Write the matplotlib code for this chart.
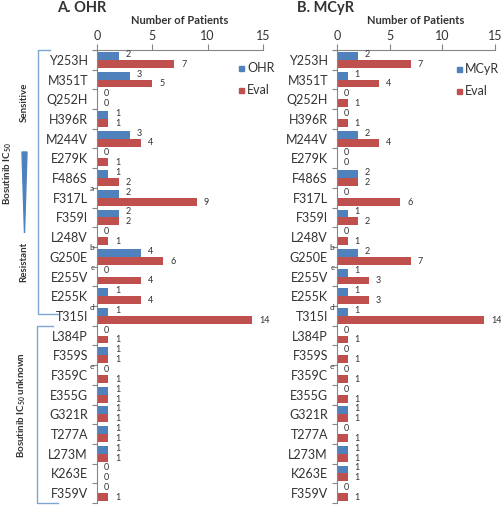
import matplotlib
matplotlib.use("Agg")
import matplotlib.pyplot as plt
from matplotlib.lines import Line2D
from matplotlib.patches import Polygon
from matplotlib.transforms import offset_copy
import numpy as np

plt.rcParams['font.family'] = ['Lato', 'DejaVu Sans']
plt.rcParams['mathtext.fontset'] = 'custom'
plt.rcParams['mathtext.rm'] = 'Lato'
plt.rcParams['mathtext.bf'] = 'Lato:bold'

mutations = ["Y253H", "M351T", "Q252H", "H396R", "M244V", "E279K", "F486S",
             "F317L", "F359I", "L248V", "G250E", "E255V", "E255K", "T315I",
             "L384P", "F359S", "F359C", "E355G", "G321R", "T277A", "L273M",
             "K263E", "F359V"]
sup_left = {"F317L": "a", "G250E": "b", "E255V": "c", "T315I": "d", "F359C": "e"}
sup_right = {"G250E": "b", "E255V": "c", "T315I": "d", "F359C": "e"}

ohr = [2, 3, 0, 1, 3, 0, 1, 2, 2, 0, 4, 0, 1, 1, 0, 1, 0, 1, 1, 1, 1, 0, 0]
ohr_eval = [7, 5, 0, 1, 4, 1, 2, 9, 2, 1, 6, 4, 4, 14, 1, 1, 1, 1, 1, 1, 1, 0, 1]
mcyr = [2, 1, 0, 0, 2, 0, 2, 0, 1, 0, 2, 1, 1, 1, 0, 0, 0, 0, 1, 0, 1, 1, 0]
mcyr_eval = [7, 4, 1, 1, 4, 0, 2, 6, 2, 1, 7, 3, 3, 14, 1, 1, 1, 1, 1, 1, 1, 1, 1]
xticks = [0, 5, 10, 15]

BLUE = "#4F81BD"
RED = "#C0504D"
TXT = "#333333"
W, H = 502, 505

fig = plt.figure(figsize=(W / 100, H / 100), dpi=100)

def fx(px):
    return px / W

def fy(py):
    return 1 - py / H

def make_panel(x0, x1, y0, y1, series, evals, sups, title, legname, leg_x, leg_y):
    ax = fig.add_axes([fx(x0), fy(y1), fx(x1) - fx(x0), fy(y0) - fy(y1)])
    n = len(mutations)
    y = np.arange(n)
    bh = 0.4
    ax.barh(y - bh / 2, series, height=bh, color=BLUE, edgecolor="none")
    ax.barh(y + bh / 2, evals, height=bh, color=RED, edgecolor="none")
    ax.set_xlim(0, 15)
    ax.set_ylim(n - 0.5, -0.5)
    ax.set_yticks(y)
    ax.set_yticklabels(mutations, fontsize=9, color=TXT)
    ax.set_yticks(np.arange(n + 1) - 0.5, minor=True)
    ax.tick_params(axis='y', which='major', length=0, pad=6.5)
    ax.tick_params(axis='y', which='minor', length=3.5, color="#868686", width=0.8)
    ax.xaxis.tick_top()
    ax.set_xticks(xticks)
    ax.tick_params(axis='x', length=4, color="#868686", width=0.8, labelsize=9,
                   labelcolor=TXT, pad=2)
    for s in ["right", "bottom"]:
        ax.spines[s].set_visible(False)
    for s in ["left", "top"]:
        ax.spines[s].set_color("#868686")
        ax.spines[s].set_linewidth(0.8)
    ax.set_xlabel("Number of Patients", fontsize=8, fontweight="bold",
                  color=TXT, labelpad=4)
    ax.xaxis.set_label_position("top")
    t_off = offset_copy(ax.transData, fig=fig, x=5, y=0, units='points')
    for i in range(n):
        ax.text(series[i], i - bh / 2 - 0.08, str(series[i]), transform=t_off,
                fontsize=6.5, color=TXT, va="center", ha="left")
        ax.text(evals[i], i + bh / 2 + 0.02, str(evals[i]), transform=t_off,
                fontsize=6.5, color=TXT, va="center", ha="left")
    # superscripts
    t_sup = offset_copy(ax.get_yaxis_transform(), fig=fig, x=-3.5, y=0, units='points')
    for i, m in enumerate(mutations):
        if m in sups:
            ax.text(0, i - 0.45, sups[m], transform=t_sup, fontsize=6,
                    color=TXT, ha="center", va="center")
    fig.text(fx(x0 - 40), fy(8), title, fontsize=10.5, fontweight="bold",
             color=TXT, ha="left", va="center")
    # legend
    for lab, col, yy in [(legname, BLUE, leg_y), ("Eval", RED, leg_y + 22)]:
        fig.patches.append(plt.Rectangle((fx(leg_x), fy(yy + 3)), fx(5), 5 / H,
                                         transform=fig.transFigure, color=col))
        fig.text(fx(leg_x + 8), fy(yy), lab, fontsize=9, color=TXT,
                 ha="left", va="center")
    return ax

make_panel(97, 263, 50, 503, ohr, ohr_eval, sup_left, "A. OHR", "OHR", 239, 68)
make_panel(337, 495, 50, 503, mcyr, mcyr_eval, sup_right, "B. MCyR", "MCyR", 457, 69)

# brackets
BR = "#7EA6D4"
def fline(xs, ys):
    fig.lines.append(Line2D([fx(v) for v in xs], [fy(v) for v in ys],
                            transform=fig.transFigure, color=BR, lw=1.0))

fline([50, 38, 38, 58], [50, 50, 314, 314])
fline([53, 37, 37, 58], [326, 326, 503, 503])

# wedge
fig.patches.append(Polygon([(fx(22), fy(152)), (fx(27), fy(152)), (fx(24.5), fy(233))],
                           closed=True, transform=fig.transFigure, color=BLUE))

fig.text(fx(24), fy(102), "Sensitive", rotation=90, fontsize=7, fontweight="bold",
         color=TXT, ha="center", va="center")
fig.text(fx(24), fy(262), "Resistant", rotation=90, fontsize=7, fontweight="bold",
         color=TXT, ha="center", va="center")
fig.text(fx(8), fy(174), r"Bosutinib IC$_{\mathbf{50}}$", rotation=90, fontsize=7,
         fontweight="bold", color=TXT, ha="center", va="center")
fig.text(fx(22), fy(405), r"Bosutinib IC$_{\mathbf{50}}$ unknown", rotation=90,
         fontsize=7, fontweight="bold", color=TXT, ha="center", va="center")

fig.savefig("out.png", dpi=100)
